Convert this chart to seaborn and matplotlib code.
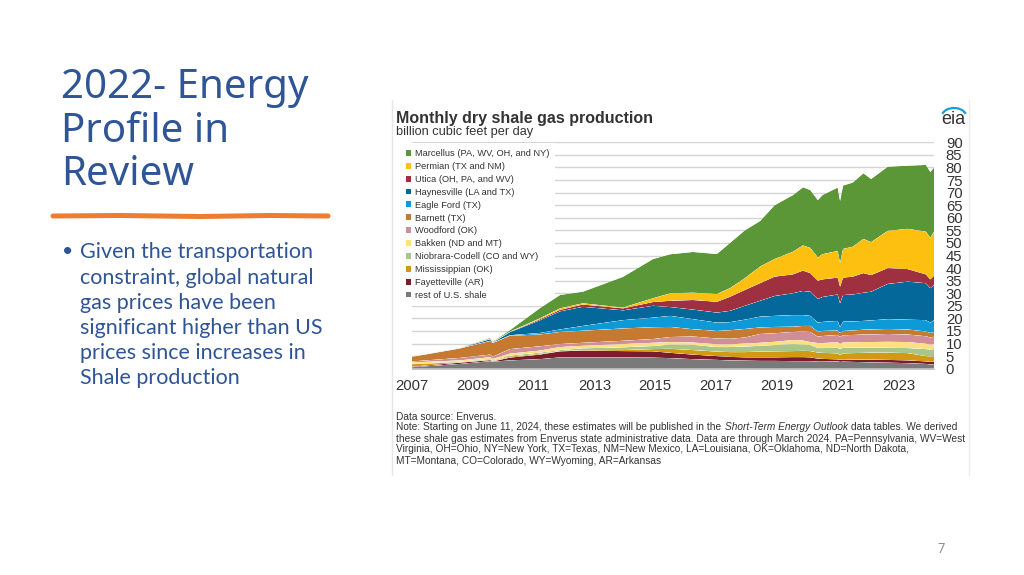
"""Slide: 2022 energy profile, with the EIA shale gas stacked area chart"""
import matplotlib
matplotlib.use("Agg")
import matplotlib.pyplot as plt
import numpy as np
import pandas as pd
import seaborn as sns
import seaborn.objects as so
from matplotlib.patches import Arc, Patch

sns.set_style("white")
plt.rcParams["font.family"] = ["Liberation Sans", "DejaVu Sans"]

years = [2007.0, 2008.58, 2009.57, 2009.66, 2010.22, 2011.2, 2011.87, 2012.62, 2013.94, 2014.93, 2015.5,
         2016.24, 2017.03, 2017.46, 2017.95, 2018.45, 2018.93, 2019.53, 2019.86, 2020.1, 2020.35, 2020.5,
         2021.0, 2021.08, 2021.18, 2021.5, 2021.85, 2022.1, 2022.65, 2023.3, 2023.9, 2024.05, 2024.17]

# top edge of each band (cumulative bcf/d), bottom band first
top_rest = [0.6, 1.9, 3.0, 2.8, 3.3, 3.8, 4.5, 4.5, 4.5, 4.4, 4.2, 3.8, 3.5, 3.3, 3.2, 3.1, 3.1, 3.0, 3.0, 3.0, 2.8,
            2.8, 2.9, 2.7, 2.8, 2.7, 2.6, 2.5, 2.4, 2.2, 1.9, 1.7, 1.8]
top_fayetteville = [0.8, 2.4, 3.4, 2.9, 4.4, 5.6, 6.9, 7.2, 7.0, 6.9, 6.3, 5.6, 5.0, 4.7, 4.5, 4.5, 4.5, 4.6, 4.6, 4.5,
                    4.0, 3.9, 3.7, 3.5, 3.7, 3.6, 3.6, 3.6, 3.5, 3.3, 2.9, 2.7, 2.8]
top_mississippian = [1.8, 2.6, 3.6, 3.0, 4.8, 5.9, 7.0, 7.4, 7.4, 7.8, 7.9, 7.4, 6.8, 6.6, 6.6, 6.8, 6.9, 7.0, 7.1, 7.0,
                     6.4, 6.3, 6.1, 5.4, 6.1, 6.2, 6.3, 6.4, 6.4, 6.2, 5.0, 4.8, 5.0]
top_niobrara = [2.0, 2.8, 3.9, 3.3, 5.2, 6.4, 7.4, 8.1, 8.5, 9.0, 9.6, 9.5, 8.6, 8.6, 8.8, 9.1, 9.4, 9.8, 9.6, 9.4, 8.2,
                8.2, 8.3, 7.8, 8.3, 8.3, 8.3, 8.3, 8.3, 8.2, 7.8, 7.6, 7.8]
top_bakken = [2.5, 3.3, 4.6, 3.9, 6.0, 7.2, 8.6, 9.1, 9.8, 10.3, 10.6, 10.4, 9.7, 9.7, 10.0, 10.3, 10.7, 11.4, 11.2,
              10.6, 10.2, 10.2, 10.5, 9.8, 10.4, 10.5, 10.6, 10.6, 10.7, 10.6, 9.9, 9.6, 9.8]
top_woodford = [2.9, 4.3, 5.6, 4.8, 7.8, 8.9, 9.8, 10.3, 11.1, 11.8, 12.6, 12.8, 12.0, 11.9, 12.4, 13.8, 14.1, 14.6,
                14.8, 14.6, 12.7, 13.0, 13.4, 12.6, 13.3, 13.4, 13.6, 13.6, 13.8, 13.6, 12.9, 12.4, 12.7]
top_barnett = [4.7, 8.05, 11.0, 10.2, 13.1, 13.6, 14.6, 15.1, 16.0, 16.5, 16.6, 15.7, 15.0, 15.3, 15.8, 16.4, 16.6,
               16.7, 17.0, 17.0, 14.7, 15.0, 15.2, 14.2, 15.0, 15.2, 15.5, 15.6, 15.8, 15.6, 14.8, 14.2, 14.6]
top_eagle_ford = [4.72, 8.1, 11.1, 10.3, 13.3, 14.2, 15.6, 17.0, 19.3, 20.3, 21.0, 19.7, 18.3, 18.5, 19.5, 20.7, 21.0,
                  21.3, 21.3, 21.0, 18.3, 18.6, 19.0, 16.5, 18.7, 18.8, 19.0, 19.2, 19.7, 19.5, 19.3, 18.3, 19.3]
top_haynesville = [4.74, 8.15, 11.7, 10.4, 14.5, 19.2, 22.8, 24.6, 23.2, 25.0, 24.5, 23.5, 22.3, 23.0, 25.0, 27.0, 28.9,
                   30.0, 30.9, 30.6, 27.7, 28.5, 29.5, 26.0, 29.3, 29.5, 30.2, 30.6, 33.7, 34.6, 34.0, 32.0, 33.3]
top_utica = [4.76, 8.2, 11.8, 10.5, 14.6, 19.6, 23.4, 25.5, 24.0, 26.5, 27.0, 27.3, 26.6, 28.6, 31.3, 34.0, 36.6, 37.5,
             39.0, 38.0, 35.0, 35.5, 36.2, 32.6, 36.2, 36.6, 38.0, 37.2, 40.0, 39.6, 37.5, 35.5, 37.0]
top_permian = [4.78, 8.25, 11.9, 10.6, 14.7, 20.0, 24.0, 26.0, 24.3, 28.0, 30.0, 30.2, 29.7, 32.0, 36.0, 40.6, 43.6,
               46.5, 49.0, 48.0, 44.2, 45.5, 46.8, 42.0, 47.6, 48.5, 51.6, 50.3, 54.8, 55.6, 54.5, 52.0, 54.5]
top_marcellus = [4.8, 8.3, 12.2, 10.8, 15.3, 24.0, 29.3, 30.6, 36.5, 43.6, 45.5, 46.4, 45.6, 50.0, 55.0, 58.7, 65.0,
                 69.0, 72.1, 71.0, 67.0, 69.0, 72.0, 66.7, 72.8, 74.0, 77.7, 75.4, 80.3, 80.7, 81.0, 78.2, 80.0]

basins = ["rest of U.S. shale", "Fayetteville (AR)", "Mississippian (OK)", "Niobrara-Codell (CO and WY)",
          "Bakken (ND and MT)", "Woodford (OK)", "Barnett (TX)", "Eagle Ford (TX)", "Haynesville (LA and TX)",
          "Utica (OH, PA, and WV)", "Permian (TX and NM)", "Marcellus (PA, WV, OH, and NY)"]
colors = ["#7a7a7a", "#7b1c2c", "#d29a12", "#a9c68a", "#fde07f", "#cf8e98", "#c67a30", "#0e9ad6", "#04699a",
          "#9f3040", "#fdc010", "#5b9637"]

y_ticks = list(range(0, 95, 5))
x_labels = [2007, 2009, 2011, 2013, 2015, 2017, 2019, 2021, 2023]
x_minor = list(range(2007, 2025))

title_lines = ["2022- Energy", "Profile in", "Review"]
body_lines = ["Given the transportation", "constraint, global natural", "gas prices have been",
              "significant higher than US", "prices since increases in", "Shale production"]

SLIDE_BLUE = "#2f5597"
TEXT_DARK = "#333333"


def build_frame():
    tops = np.array([top_rest, top_fayetteville, top_mississippian, top_niobrara, top_bakken, top_woodford,
                     top_barnett, top_eagle_ford, top_haynesville, top_utica, top_permian, top_marcellus])
    bands = np.diff(tops, axis=0, prepend=0)
    frames = [pd.DataFrame({"year": years, "bcfd": band, "basin": name}) for name, band in zip(basins, bands)]
    return pd.concat(frames, ignore_index=True)


def draw_page(page):
    for i, line in enumerate(title_lines):
        page.text(61, 88 + i * 43.5, line, fontsize=29, color=SLIDE_BLUE, family="Noto Sans", va="center")
    page.plot([53, 120, 200, 270, 328], [216, 215.5, 216.5, 215.5, 216], color="#ed7d31", lw=3.6,
              solid_capstyle="round")
    page.text(62, 251, "•", fontsize=14, color=SLIDE_BLUE, family="Lato", va="center")
    for i, line in enumerate(body_lines):
        page.text(80, 252.5 + i * 25.2, line, fontsize=15.5, color=SLIDE_BLUE, family="Lato", va="center")
    page.text(941, 549, "7", fontsize=9, color="#8a8a8a", family="Lato", ha="center", va="center")

    # image edges
    page.plot([392, 392], [100, 475], color="#e6e6e6", lw=1)
    page.plot([969, 969], [100, 475], color="#ececec", lw=1)

    page.text(396, 118, "Monthly dry shale gas production", fontsize=11.5, fontweight="bold", color=TEXT_DARK,
              va="center")
    page.text(396, 132.5, "billion cubic feet per day", fontsize=9.2, color=TEXT_DARK, va="center")

    # eia logo
    page.text(953, 119, "eia", fontsize=13, color=TEXT_DARK, ha="center", va="center")
    page.add_patch(Arc((954, 117), 25, 18, theta1=195, theta2=345, color="#1a9bd7", lw=1.6))

    note = dict(fontsize=7.25, color=TEXT_DARK, va="center")
    page.text(396, 416.5, "Data source: Enverus.", **note)
    page.text(396, 427.5, "Note: Starting on June 11, 2024, these estimates will be published in the", **note)
    page.text(725, 427.5, "Short-Term Energy Outlook", style="italic", **note)
    page.text(851, 427.5, "data tables. We derived", **note)
    page.text(396, 438.5, "these shale gas estimates from Enverus state administrative data. Data are through "
              "March 2024. PA=Pennsylvania, WV=West", **note)
    page.text(396, 449.5, "Virginia, OH=Ohio, NY=New York, TX=Texas, NM=New Mexico, LA=Louisiana, OK=Oklahoma, "
              "ND=North Dakota,", **note)
    page.text(396, 460.5, "MT=Montana, CO=Colorado, WY=Wyoming, AR=Arkansas", **note)


def main():
    fig = plt.figure(figsize=(10.24, 5.75), dpi=100, facecolor="white")
    page = fig.add_axes([0, 0, 1, 1])
    page.set_xlim(0, 1024)
    page.set_ylim(575, 0)
    page.axis("off")
    draw_page(page)

    ax = fig.add_axes([412 / 1024, 1 - 368.7 / 575, 522 / 1024, 226.4 / 575])
    ax.patch.set_alpha(0)

    (
        so.Plot(build_frame(), x="year", y="bcfd", color="basin")
        .add(so.Area(alpha=1, edgewidth=0), so.Stack(), legend=False)
        .scale(color=so.Nominal(dict(zip(basins, colors)), order=basins))
        .label(x="", y="")
        .on(ax)
        .plot()
    )

    ax.set_xlim(2007, 2024.17)
    ax.set_ylim(0, 90)
    ax.yaxis.tick_right()
    ax.set_yticks(y_ticks)
    ax.set_xticks(x_labels)
    ax.set_xticks(x_minor, minor=True)
    ax.tick_params(axis="y", length=0, pad=8.5, labelsize=10.7, labelcolor=TEXT_DARK)
    ax.tick_params(axis="x", which="major", length=3, width=0.8, color="#c8c8c8", pad=4.5, labelsize=10.7,
                   labelcolor=TEXT_DARK)
    ax.tick_params(axis="x", which="minor", length=2, width=0.8, color="#c8c8c8")
    ax.grid(axis="y", color="#d4d4d4", lw=1)
    ax.grid(axis="x", visible=False)
    ax.set_axisbelow(True)
    sns.despine(ax=ax, left=True, right=True, top=True)
    ax.spines["bottom"].set_color("#c8c8c8")

    handles = [Patch(color=c, label=b) for b, c in zip(basins[::-1], colors[::-1])]
    leg = ax.legend(handles=handles, loc="upper left", bbox_to_anchor=(400 / 1024, 1 - 143.3 / 575),
                    bbox_transform=fig.transFigure, fontsize=6.65, frameon=True, framealpha=1, facecolor="white",
                    edgecolor="none", fancybox=False, handlelength=0.6, handleheight=0.6, handletextpad=0.35,
                    labelspacing=0.42, borderpad=0.63, borderaxespad=0, labelcolor=TEXT_DARK)
    # box hides the gridlines but sits under the areas
    leg.set_zorder(0.8)
    for h in leg.legend_handles:
        h.set_linewidth(0)

    fig.savefig("out.png", dpi=100)
    plt.close(fig)


if __name__ == "__main__":
    main()
